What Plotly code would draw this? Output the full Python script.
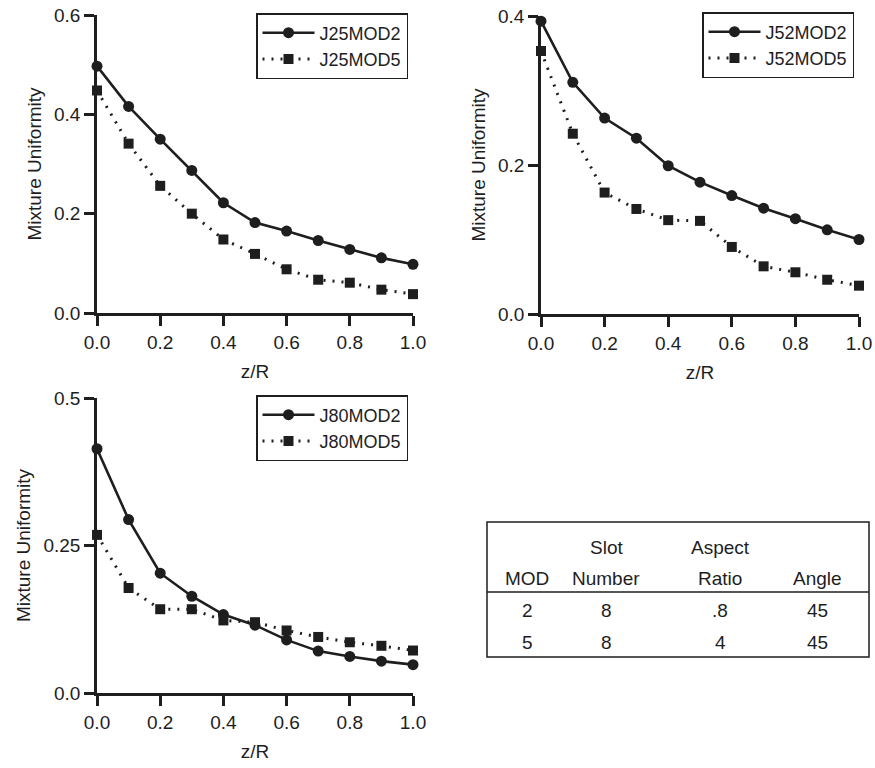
import plotly.graph_objects as go

# Axial positions
z_over_r = [0.0, 0.1, 0.2, 0.3, 0.4, 0.5, 0.6, 0.7, 0.8, 0.9, 1.0]

# Mixture uniformity for each jet / module configuration
j25_mod2 = [0.497, 0.416, 0.350, 0.287, 0.222, 0.182, 0.165, 0.146, 0.128, 0.111, 0.098]
j25_mod5 = [0.448, 0.341, 0.256, 0.200, 0.148, 0.119, 0.088, 0.067, 0.061, 0.047, 0.038]

j52_mod2 = [0.393, 0.311, 0.263, 0.236, 0.199, 0.177, 0.159, 0.142, 0.128, 0.113, 0.100]
j52_mod5 = [0.353, 0.242, 0.163, 0.141, 0.126, 0.125, 0.090, 0.064, 0.056, 0.046, 0.038]

j80_mod2 = [0.414, 0.294, 0.203, 0.164, 0.133, 0.115, 0.090, 0.071, 0.062, 0.054, 0.048]
j80_mod5 = [0.268, 0.178, 0.142, 0.142, 0.123, 0.120, 0.106, 0.095, 0.086, 0.080, 0.072]

# Module geometry table
table_header_top = ["", "Slot", "Aspect", ""]
table_header_bottom = ["MOD", "Number", "Ratio", "Angle"]
table_rows = [["2", "8", ".8", "45"],
              ["5", "8", "4", "45"]]

INK = "#1e1e1e"
FONT = "Liberation Sans, Arial, sans-serif"
W, H = 875, 768

fig = go.Figure()

panels = [
    # (name2, name5, y2, y5, xaxis, yaxis, legend, x0, x1, ytop, ybot, ytickvals, yticktext, yrange)
    ("J25MOD2", "J25MOD5", j25_mod2, j25_mod5, "x", "y", "legend",
     97, 413, 15, 313, [0, 0.2, 0.4, 0.6], ["0.0", "0.2", "0.4", "0.6"], [0, 0.6]),
    ("J52MOD2", "J52MOD5", j52_mod2, j52_mod5, "x2", "y2", "legend2",
     541, 859, 16, 314, [0, 0.2, 0.4], ["0.0", "0.2", "0.4"], [0, 0.4]),
    ("J80MOD2", "J80MOD5", j80_mod2, j80_mod5, "x3", "y3", "legend3",
     97, 413, 398, 693, [0, 0.25, 0.5], ["0.0", "0.25", "0.5"], [0, 0.5]),
]

legend_pos = {"legend": (256, 13), "legend2": (702, 12), "legend3": (256, 395)}

for i, (n2, n5, v2, v5, xa, ya, lg, x0, x1, yt, yb, tv, tt, yr) in enumerate(panels, start=1):
    fig.add_trace(go.Scatter(
        x=z_over_r, y=v2, name=n2, mode="lines+markers",
        line=dict(color=INK, width=2.6, dash="solid"),
        marker=dict(symbol="circle", size=11, color=INK),
        xaxis=xa, yaxis=ya, legend=lg, cliponaxis=False))
    fig.add_trace(go.Scatter(
        x=z_over_r, y=v5, name=n5, mode="lines+markers",
        line=dict(color=INK, width=3, dash="2px,7px"),
        marker=dict(symbol="square", size=10, color=INK),
        xaxis=xa, yaxis=ya, legend=lg, cliponaxis=False))

    suffix = "" if i == 1 else str(i)
    axis_common = dict(
        showline=True, linecolor=INK, linewidth=2.5,
        ticks="outside", ticklen=10, tickwidth=2.5, tickcolor=INK,
        showgrid=False, zeroline=False, automargin=False,
        tickfont=dict(family=FONT, size=19, color=INK),
    )
    fig.layout["xaxis" + suffix] = dict(
        axis_common,
        domain=[x0 / W, x1 / W], range=[0, 1],
        tickvals=[0, 0.2, 0.4, 0.6, 0.8, 1.0],
        ticktext=["0.0", "0.2", "0.4", "0.6", "0.8", "1.0"],
        anchor="y" + suffix,
        title=dict(text="z/R", font=dict(family=FONT, size=19, color=INK), standoff=14),
    )
    fig.layout["yaxis" + suffix] = dict(
        axis_common,
        domain=[1 - yb / H, 1 - yt / H], range=yr,
        tickvals=tv, ticktext=tt,
        anchor="x" + suffix,
        title=dict(text="Mixture Uniformity", font=dict(family=FONT, size=19, color=INK), standoff=8),
    )
    lx, ly = legend_pos[lg]
    fig.layout[lg] = dict(
        x=lx / W, y=1 - ly / H, xanchor="left", yanchor="top",
        bordercolor=INK, borderwidth=1.5, bgcolor="white",
        font=dict(family=FONT, size=18, color=INK),
        itemwidth=52, tracegroupgap=0,
        entrywidth=128, entrywidthmode="pixels",
    )

# Module geometry table drawn as a boxed set of labels
tx0, tx1, ty0, ty1, ty_rule = 487, 869, 522, 657, 592
fig.add_shape(type="rect", xref="paper", yref="paper",
              x0=tx0 / W, x1=tx1 / W, y0=1 - ty1 / H, y1=1 - ty0 / H,
              line=dict(color=INK, width=1.5))
fig.add_shape(type="line", xref="paper", yref="paper",
              x0=tx0 / W, x1=tx1 / W, y0=1 - ty_rule / H, y1=1 - ty_rule / H,
              line=dict(color=INK, width=1.5))

col_x = [527, 606, 720, 817]
row_y = [547, 578, 610, 642]
rows = [table_header_top, table_header_bottom] + table_rows
for r, row in enumerate(rows):
    for c, txt in enumerate(row):
        if not txt:
            continue
        fig.add_annotation(x=col_x[c] / W, y=1 - row_y[r] / H, xref="paper", yref="paper",
                           text=txt, showarrow=False, xanchor="center", yanchor="middle",
                           font=dict(family=FONT, size=19, color=INK))

fig.update_layout(
    width=W, height=H,
    margin=dict(l=0, r=0, t=0, b=0),
    paper_bgcolor="white", plot_bgcolor="white",
    showlegend=True,
)

fig.write_html("out.html")
